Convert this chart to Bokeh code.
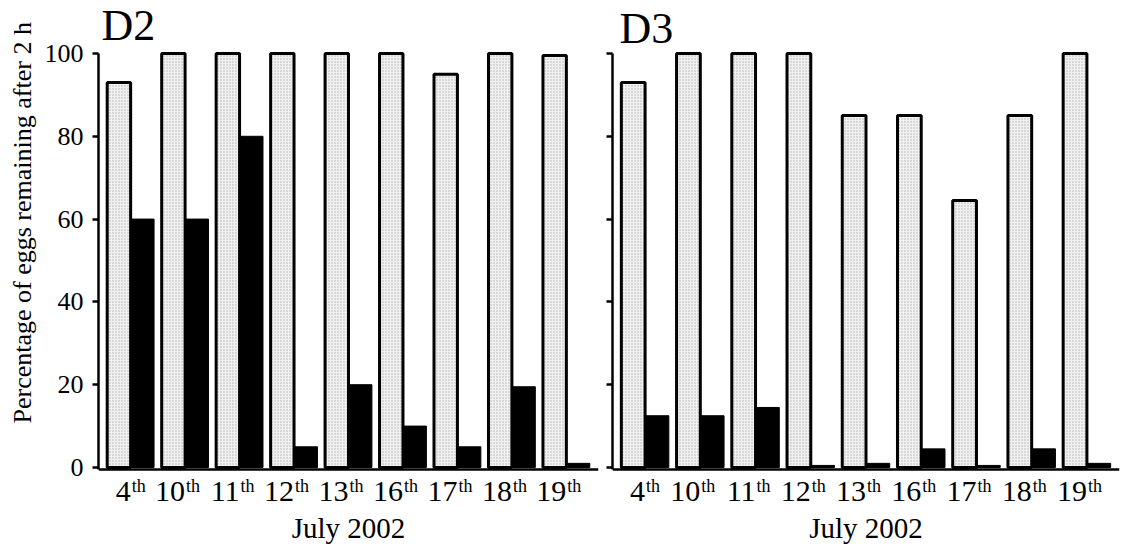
from bokeh.core.properties import value
from bokeh.embed import file_html
from bokeh.layouts import row
from bokeh.models import ColumnDataSource, FixedTicker, Range1d, Span, Title
from bokeh.plotting import figure
from bokeh.resources import INLINE
from bokeh.transform import dodge

# Sampling days (July 2002) and percentage of eggs remaining after 2 h
days = ["4", "10", "11", "12", "13", "16", "17", "18", "19"]
day_suffix = ["th"] * len(days)

d2_pale = [93, 100, 100, 100, 100, 100, 95, 100, 99.5]
d2_dark = [60, 60, 80, 5, 20, 10, 5, 19.5, 1]

d3_pale = [93, 100, 100, 100, 85, 85, 64.5, 85, 100]
d3_dark = [12.5, 12.5, 14.5, 0.5, 1, 4.5, 0.5, 4.5, 1]

y_ticks = [0, 20, 40, 60, 80, 100]
x_title = "July 2002"
y_title = "Percentage of eggs remaining after 2 h"

SERIF = "Liberation Serif"
X_START, X_END = -0.09, len(days) + 0.09
# the plotting frame spans the full height so that day labels and panel
# names can be drawn as text glyphs above and below the bars
Y_START, Y_END = -20.05, 112.8
BASE = -0.5
BAR_W = 0.43


def make_panel(name, pale, dark, width, border_left, border_right,
               show_y_labels, name_dx, name_dy):
    pos = [i + 0.5 for i in range(len(days))]
    src = ColumnDataSource(dict(pos=pos, pale=pale, dark=dark,
                                day=days, sup=day_suffix))
    p = figure(width=width, height=550, output_backend="svg",
               toolbar_location=None, x_axis_location=None,
               x_range=Range1d(X_START, X_END), y_range=Range1d(Y_START, Y_END),
               min_border_left=border_left, min_border_right=border_right,
               min_border_top=0, min_border_bottom=0,
               outline_line_color=None)
    p.xgrid.visible = False
    p.ygrid.visible = False

    # stippled open bars
    p.vbar(x=dodge("pos", -BAR_W / 2), top="pale", bottom=0, width=BAR_W,
           source=src, fill_color="#f1f1f1", line_color="black",
           line_width=3, hatch_pattern="dot", hatch_color="#b0b0b0",
           hatch_scale=3, hatch_weight=0.7)
    # solid bars
    p.vbar(x=dodge("pos", BAR_W / 2), top="dark", bottom=0, width=BAR_W,
           source=src, fill_color="black", line_color="black", line_width=1)

    # horizontal baseline
    p.add_layout(Span(location=BASE, dimension="width", line_color="black",
                      line_width=2.5))

    ya = p.yaxis[0]
    ya.ticker = FixedTicker(ticks=y_ticks)
    ya.bounds = (BASE, 100)
    ya.axis_line_width = 2.5
    ya.axis_line_color = "black"
    ya.major_tick_line_width = 2.5
    ya.major_tick_line_color = "black"
    ya.major_tick_out = 6
    ya.major_tick_in = 0
    ya.minor_tick_line_color = None
    if show_y_labels:
        ya.major_label_text_font = SERIF
        ya.major_label_text_font_size = "26px"
        ya.major_label_text_color = "black"
        ya.major_label_standoff = 9
    else:
        ya.major_label_overrides = {t: "" for t in y_ticks}
        ya.major_label_standoff = 0

    # day labels with superscript suffix
    p.text(x="pos", y=0, text="day", source=src, text_align="right",
           text_baseline="middle", y_offset=24,
           text_font=value(SERIF), text_font_size="30px", text_color="black")
    p.text(x="pos", y=0, text="sup", source=src, text_align="left",
           text_baseline="middle", x_offset=1, y_offset=19,
           text_font=value(SERIF), text_font_size="18px", text_color="black")

    p.text(x=[(X_START + X_END) / 2], y=[0], text=[x_title],
           text_align="center", text_baseline="middle", y_offset=61,
           text_font=value(SERIF), text_font_size="29px", text_color="black")

    p.text(x=[X_START], y=[100], text=[name], text_align="left",
           text_baseline="middle", x_offset=name_dx, y_offset=name_dy,
           text_font=value(SERIF), text_font_size="44px", text_color="black")
    return p


left = make_panel("D2", d2_pale, d2_dark, 600, 93, 2, True, 3, -28)
right = make_panel("D3", d3_pale, d3_dark, 531, 12, 12, False, 7, -25)

# vertical axis title, starting near the baseline and reading upwards
left.add_layout(Title(text=y_title, align="left", offset=127,
                      text_font=SERIF, text_font_size="26px",
                      text_font_style="normal", text_color="black"), "left")

layout = row(left, right, spacing=0)

with open("out.html", "w") as f:
    f.write(file_html(layout, INLINE))
